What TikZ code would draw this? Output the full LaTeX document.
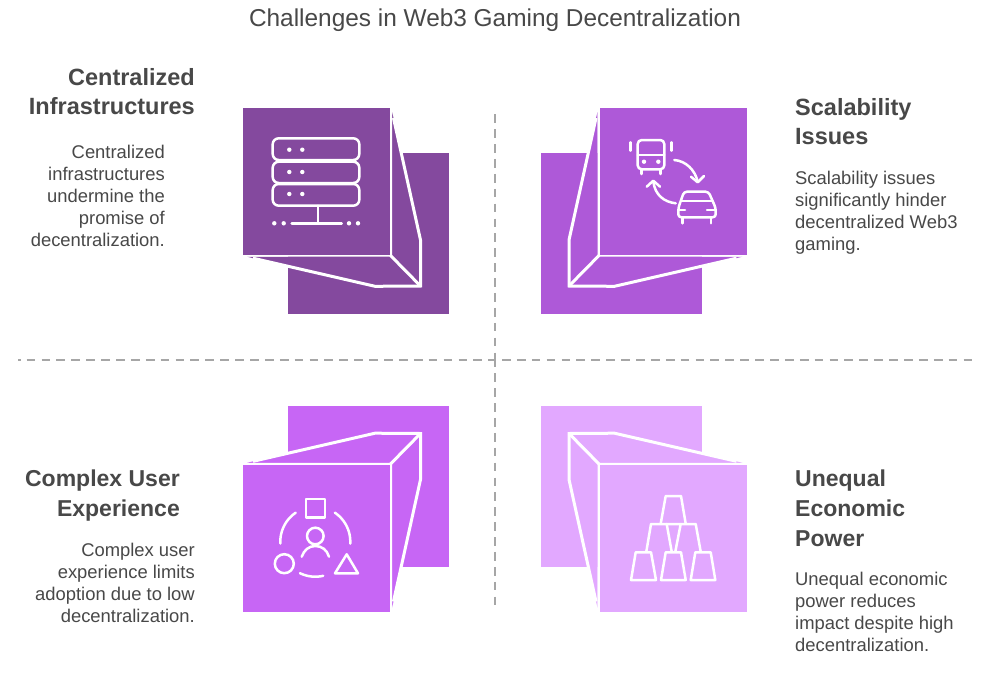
\documentclass[tikz,border=0pt]{standalone}
\usepackage{fontspec}
\setmainfont{Liberation Sans}
\definecolor{txt}{HTML}{484848}
\definecolor{pa}{HTML}{84499E}
\definecolor{pb}{HTML}{AE59D8}
\definecolor{pc}{HTML}{C766F5}
\definecolor{pd}{HTML}{E2A8FF}
\definecolor{dashc}{HTML}{A6A6A6}
\newcommand{\cube}[1]{%
  \fill[#1] (288,153) rectangle (449,314);
  \fill[#1] (392,112) -- (393.5,118) -- (420.5,240) -- (420.5,286) -- (375,286.3) -- (253,258.2) -- (247,256.6) -- (392,256.6) -- cycle;
  \fill[white] (389.6,108) -- (392,108) -- (392,112) -- (392,256.6) -- (240,256.6) -- (240,254.6) -- (389.6,254.6) -- cycle;
  \draw[white,line width=3pt,line join=miter] (393.5,118) -- (420.5,240) -- (420.5,286) -- (375,286.3) -- (253,258.2);
  \draw[white,line width=3pt] (390.5,255.5) -- (420.5,286);
  \fill[#1] (243,108) rectangle (389.6,254.6);
}
\tikzset{
  icon/.style={draw=white,line width=2.5pt,line cap=round,line join=round},
  sep/.style={draw=dashc,line width=2.8pt,dash pattern=on 8.7pt off 6.19pt},
  headl/.style={text=txt,font=\fontsize{23.5}{29.6}\selectfont\bfseries,inner sep=0pt,align=right,anchor=north east},
  headr/.style={text=txt,font=\fontsize{23.5}{29.6}\selectfont\bfseries,inner sep=0pt,align=left,anchor=north west},
  heads/.style={font=\fontsize{23}{29.6}\selectfont\bfseries},
  bodyl/.style={text=txt,font=\fontsize{18.4}{22.2}\selectfont,inner sep=0pt,align=right,anchor=north east},
  bodyr/.style={text=txt,font=\fontsize{18.4}{22.2}\selectfont,inner sep=0pt,align=left,anchor=north west},
}
\begin{document}
\begin{tikzpicture}[x=1pt,y=-1pt]
\useasboundingbox (0,0) rectangle (995,693);
\fill[white] (0,0) rectangle (995,693);
% separators
\coordinate (vt) at (495,114.3); \coordinate (vm) at (495,362);
\coordinate (vn) at (495,358.4); \coordinate (vb) at (495,605.6);
\coordinate (hl) at (18,360); \coordinate (hm) at (496,360);
\coordinate (hn) at (502,360); \coordinate (hr) at (972,360);
\draw[sep] (vt) -- (vm);
\draw[sep] (vn) -- (vb);
\draw[sep,dash phase=6.2pt] (hl) -- (hm);
\draw[sep] (hn) -- (hr);
% cubes
\cube{pa}
\begin{scope}[shift={(989.5,0)},xscale=-1]\cube{pb}\end{scope}
\begin{scope}[shift={(0,719.5)},yscale=-1]\cube{pc}\end{scope}
\begin{scope}[shift={(989.5,719.5)},xscale=-1,yscale=-1]\cube{pd}\end{scope}
% server icon
\draw[icon,rounded corners=6pt] (272.7,138.3) rectangle (359.3,160);
\draw[icon,rounded corners=6pt] (272.7,161.7) rectangle (359.3,183);
\draw[icon,rounded corners=6pt] (272.7,184) rectangle (359.3,205.7);
\foreach \yy in {149.7,172,194}{\fill[white] (289.3,\yy) circle (2.2pt) (302.3,\yy) circle (2.2pt);}
\draw[icon] (318,205.7) -- (318,223.3) (291.7,223.3) -- (341.7,223.3);
\foreach \xx in {274.3,283.7,349,358}{\fill[white] (\xx,223.3) circle (2.2pt);}
% bus icon
\draw[icon,rounded corners=4pt] (637.7,140) rectangle (664.3,169.3);
\draw[icon] (637.7,155) -- (664.3,155);
\fill[white] (644,161.7) circle (2.2pt) (658.3,161.7) circle (2.2pt);
\draw[icon] (641.7,169.3) -- (641.7,174) (660.3,169.3) -- (660.3,174);
\draw[icon] (630.7,142.3) -- (630.7,150.7) (671.7,142.3) -- (671.7,150.7);
% arrows
\draw[icon] (674.3,160) .. controls (686,161) and (695,170) .. (697.7,181.7);
\draw[icon] (691,176.7) -- (697.7,182.3) -- (704,176);
\draw[icon] (675.7,203.3) .. controls (664,202) and (655,195) .. (653.3,181.5);
\draw[icon] (646.7,186.7) -- (653.3,180.7) -- (660,186.7);
% car icon
\draw[icon,rounded corners=3pt] (684,191.7) -- (708.5,191.7) -- (715.7,208) -- (715.7,217.3) -- (678.3,217.3) -- (678.3,208) -- cycle;
\draw[icon] (681.5,201) -- (712,201);
\draw[icon] (679,210) -- (685,210) (707,210) -- (715,210);
\draw[icon] (682.3,217.3) -- (682.3,223.3) (711,217.3) -- (711,223.3);
% people icon
\draw[icon] (306,499) rectangle (325,517.3);
\draw[icon] (315.3,536) circle (8.3pt);
\draw[icon] (301.7,556.7) .. controls (304,550) and (309,546) .. (315.3,546) .. controls (322,546) and (327,550) .. (329,556.7);
\draw[icon] (284.3,563.7) circle (9.5pt);
\draw[icon] (346.7,554.3) -- (335,573.3) -- (358,573.3) -- cycle;
\draw[icon] plot[domain=124:183,samples=20] ({315.3+35*cos(\x)},{541.7-35*sin(\x)});
\draw[icon] plot[domain=56:-3,samples=20] ({315.3+35*cos(\x)},{541.7-35*sin(\x)});
\draw[icon] plot[domain=244:283,samples=20] ({315.3+35*cos(\x)},{541.7-35*sin(\x)});
% cups icon
\draw[icon] (631,580) -- (635.7,552.3) -- (651,552.3) -- (656,580) -- cycle;
\draw[icon] (661,580) -- (665.7,552.3) -- (681,552.3) -- (685.7,580) -- cycle;
\draw[icon] (690.7,580) -- (695.3,552.3) -- (710.7,552.3) -- (715.3,580) -- cycle;
\draw[icon] (646.3,551.7) -- (651,524) -- (695.7,524) -- (700.7,551.7);
\draw[icon] (666.7,524) -- (671.7,551.7) (680.7,524) -- (675.3,551.7);
\draw[icon] (660.7,523.7) -- (665.7,496) -- (681,496) -- (685.7,523.7);
% texts
\node[text=txt,font=\fontsize{24.4}{28}\selectfont,inner sep=0pt] (title) at (495,20.5) {Challenges in Web3 Gaming Decentralization};
\node[headl] (h1) at (195,68) {Centralized\\Infrastructures};
\node[bodyl] (b1) at (165,144.6) {Centralized\\infrastructures\\undermine the\\promise of\\decentralization.};
\node[headr] (h2) at (795,98) {Scalability\\Issues};
\node[bodyr] (b2) at (795,170.6) {Scalability issues\\significantly hinder\\decentralized Web3\\gaming.};
\node[headl,heads] (h3) at (180,470) {Complex User\\Experience};
\node[bodyl] (b3) at (195,542.6) {Complex user\\experience limits\\adoption due to low\\decentralization.};
\node[headr,heads] (h4) at (795,470) {Unequal\\Economic\\Power};
\node[bodyr] (b4) at (795,571.6) {Unequal economic\\power reduces\\impact despite high\\decentralization.};
\end{tikzpicture}
\end{document}
